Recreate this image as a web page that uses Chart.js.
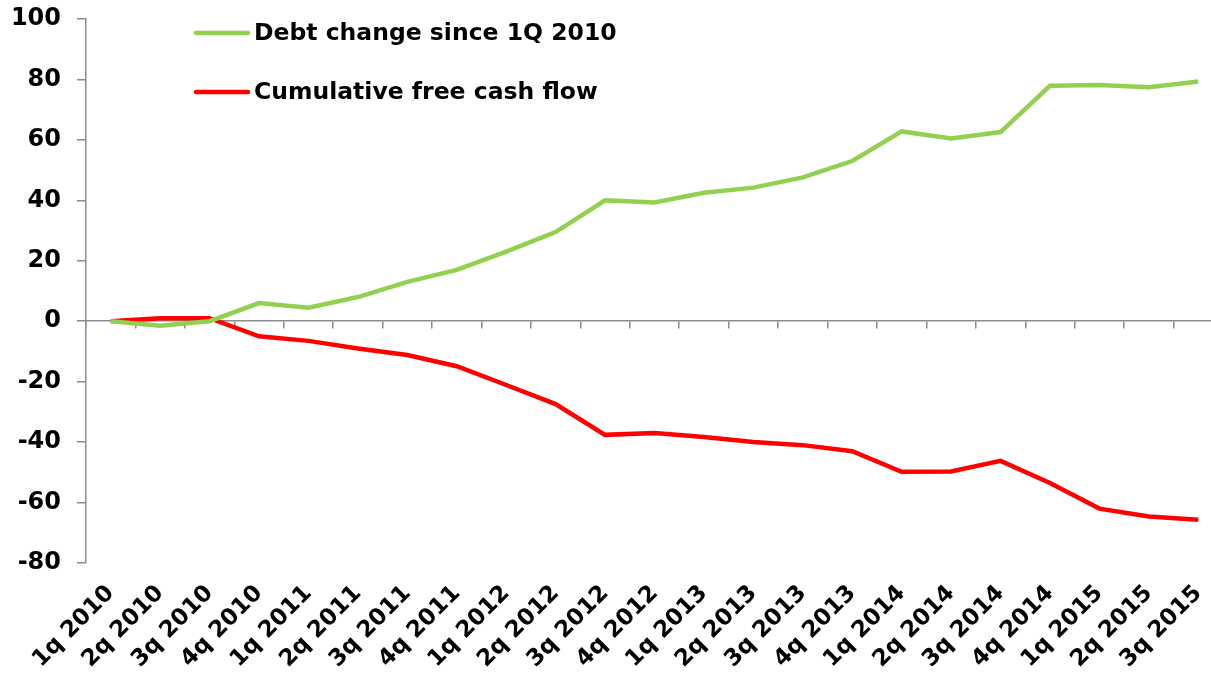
<!DOCTYPE html>
<html>
<head>
<meta charset="utf-8">
<script src="https://cdn.jsdelivr.net/npm/chart.js@4"></script>
<style>
  html, body { margin: 0; padding: 0; background: #fff; overflow: hidden; }
  #wrap { width: 1224px; height: 679px; }
</style>
</head>
<body>
<div id="wrap"><canvas id="mycanvas"></canvas></div>
<script>
var quarters = ["1q 2010", "2q 2010", "3q 2010", "4q 2010", "1q 2011", "2q 2011", "3q 2011", "4q 2011",
  "1q 2012", "2q 2012", "3q 2012", "4q 2012", "1q 2013", "2q 2013", "3q 2013", "4q 2013",
  "1q 2014", "2q 2014", "3q 2014", "4q 2014", "1q 2015", "2q 2015", "3q 2015"];
var debtChange = [0, -1.5, 0, 6, 4.5, 8, 13, 17, 23, 29.5, 40, 39.3, 42.5, 44.2, 47.6, 53,
  62.8, 60.5, 62.6, 77.9, 78.2, 77.4, 79.3];
var cumFcf = [0, 1, 1, -5, -6.5, -9, -11.2, -14.9, -21.1, -27.4, -37.6, -37, -38.3, -40, -41, -43,
  -49.8, -49.7, -46.2, -53.5, -62, -64.6, -65.7];
var yTicks = [100, 80, 60, 40, 20, 0, -20, -40, -60, -80];

var font = "'DejaVu Sans', Verdana, sans-serif";
var axisGrey = "#8c8c8c";

// legend drawn inside the plot, line swatch + bold label
var innerLegend = {
  id: "innerLegend",
  afterDraw: function(chart) {
    var ctx = chart.ctx;
    var rows = [33, 92];
    ctx.save();
    chart.data.datasets.forEach(function(ds, i) {
      var y = rows[i];
      ctx.strokeStyle = ds.borderColor;
      ctx.lineWidth = 4.5;
      ctx.lineCap = "round";
      ctx.beginPath();
      ctx.moveTo(196, y);
      ctx.lineTo(248, y);
      ctx.stroke();
      ctx.fillStyle = "#000";
      ctx.font = "bold 23.5px " + font;
      ctx.textBaseline = "middle";
      ctx.fillText(ds.label, 254, y + 1);
    });
    ctx.restore();
  }
};

var ctx = document.getElementById("mycanvas");
var chart = new Chart(ctx, {
  type: "line",
  data: {
    labels: quarters,
    datasets: [
      { label: "Debt change since 1Q 2010", data: debtChange, borderColor: "#92D050",
        borderWidth: 4.5, pointRadius: 0, tension: 0, fill: false },
      { label: "Cumulative free cash flow", data: cumFcf, borderColor: "#FF0000",
        borderWidth: 4.5, pointRadius: 0, tension: 0, fill: false }
    ]
  },
  options: {
    responsive: true,
    maintainAspectRatio: false,
    animation: false,
    layout: { padding: { top: 19, right: 1, left: 0, bottom: 0 } },
    plugins: { legend: { display: false }, tooltip: { enabled: false } },
    scales: {
      x: {
        offset: true,
        grid: { display: false },
        border: { display: false },
        afterFit: function(axis) {
          axis.height = 116;
          axis.paddingLeft = 0;
          axis.paddingRight = 0;
        },
        ticks: {
          color: "#000", minRotation: 45, maxRotation: 45, autoSkip: false, padding: 9,
          font: { family: font, weight: "bold", size: 23 }
        }
      },
      xZero: {
        type: "category",
        position: { y: 0 },
        offset: true,
        grid: { display: true, drawOnChartArea: false, offset: true, color: axisGrey, tickLength: 7, lineWidth: 1.5 },
        border: { display: true, color: axisGrey, width: 1.5 },
        ticks: { display: false }
      },
      y: {
        min: -80,
        max: 100,
        afterBuildTicks: function(axis) {
          axis.ticks = yTicks.map(function(v) { return { value: v }; });
        },
        afterFit: function(axis) {
          axis.width = 86;
          axis.paddingTop = 0;
          axis.paddingBottom = 0;
        },
        grid: { display: true, drawOnChartArea: false, color: axisGrey, tickLength: 9, lineWidth: 1.5 },
        border: { display: true, color: axisGrey, width: 1.5 },
        ticks: {
          color: "#000", padding: 16,
          font: { family: font, weight: "bold", size: 24 }
        }
      }
    }
  },
  plugins: [innerLegend]
});
</script>
</body>
</html>
